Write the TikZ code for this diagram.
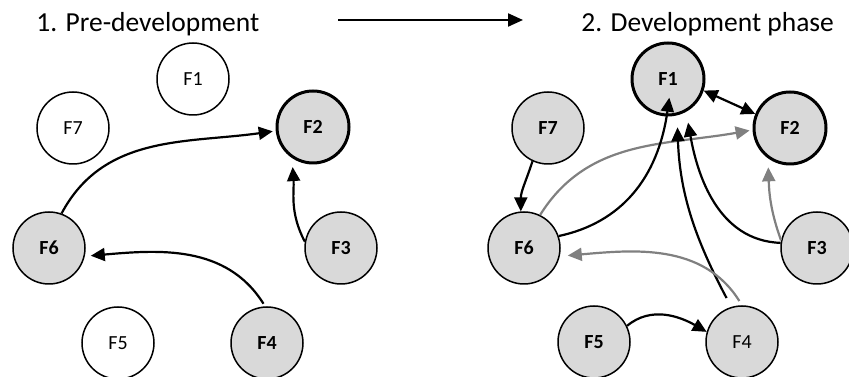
\documentclass[tikz,border=0pt]{standalone}
\usepackage{fontspec}
\setmainfont{Carlito}
\usetikzlibrary{arrows.meta,positioning}

\begin{document}
\begin{tikzpicture}[x=1pt, y=1pt, line width=2.2pt, main node/.style={circle,draw,line width=1.5pt,minimum size=72pt,inner sep=0pt,font=\fontsize{20}{24}\selectfont},%
white node/.style={main node,fill=white}, grey node/.style={main node,fill=black!15,font=\fontsize{20}{24}\selectfont\bfseries}, key node/.style={grey node,line width=3pt},%
arr/.style={-{Triangle[length=14pt,width=13pt]}}, grey arr/.style={arr,draw=black!50}]
\useasboundingbox (0,0) rectangle (849,377);
% titles and phase arrow
\node[anchor=base west,font=\fontsize{27.5}{30}\selectfont] (t1) at (32,345) {1. Pre-development};
\node[anchor=base west,font=\fontsize{27.5}{30}\selectfont] (t2) at (577,345) {2. Development phase};
\coordinate (p1) at (338,357);
\coordinate (p2) at (523,357);
\draw[-{Triangle[length=15pt,width=13pt]}] (p1) -- (p2);
% pre-development
\begin{scope}
\node[white node] (lF1) at (193,298) {F1};
\node[white node] (lF7) at (73,249) {F7};
\node[key node] (lF2) at (313,250) {F2};
\node[grey node] (lF6) at (49,129) {F6};
\node[grey node] (lF3) at (341,129) {F3};
\node[white node] (lF5) at (118,34) {F5};
\node[grey node] (lF4) at (267,34) {F4};
\end{scope}
\begin{scope}
\draw[arr,shorten >=3pt] (lF6.70) to[out=62,in=188] (lF2.186);
\draw[arr,shorten >=9pt] (lF3.170) to[out=118,in=274] (lF2.236);
\draw[arr,shorten >=6pt,shorten <=3pt] (lF4.93) to[out=122,in=5] (lF6.347);
\end{scope}
% development phase
\begin{scope}
\node[key node] (rF1) at (668,298) {F1};
\node[key node] (rF2) at (790,249) {F2};
\node[grey node] (rF7) at (548,249) {F7};
\node[grey node] (rF6) at (524,129) {F6};
\node[grey node] (rF3) at (817,129) {F3};
\node[grey node] (rF5) at (594,35) {F5};
\node[grey node,font=\fontsize{20}{24}\selectfont] (rF4) at (742,35) {F4};
\end{scope}
\begin{scope}
\draw[arr] (rF7.245) to[out=252,in=90] (rF6.95);
\draw[grey arr,shorten >=3pt] (rF6.64) to[out=58,in=190] (rF2.183);
\draw[arr,shorten >=-19pt] (rF6.19) to[out=12,in=262] (rF1.268);
\draw[arr,shorten <=10pt,shorten >=12pt] (rF4.107) to[out=118,in=272] (rF1.284);
\draw[arr,shorten >=11pt] (rF3.172) to[out=178,in=280] (rF1.299);
\draw[grey arr,shorten >=9pt] (rF3.168) to[out=110,in=272] (rF2.234);
\draw[grey arr,shorten <=5pt,shorten >=8pt] (rF4.90) to[out=122,in=5] (rF6.347);
\draw[arr] (rF5.26) to[out=40,in=150] (rF4.164);
\draw[{Triangle[length=14pt,width=13pt]}-{Triangle[length=14pt,width=13pt]}] (rF1.342) -- (rF2.158);
\end{scope}
\end{tikzpicture}
\end{document}
